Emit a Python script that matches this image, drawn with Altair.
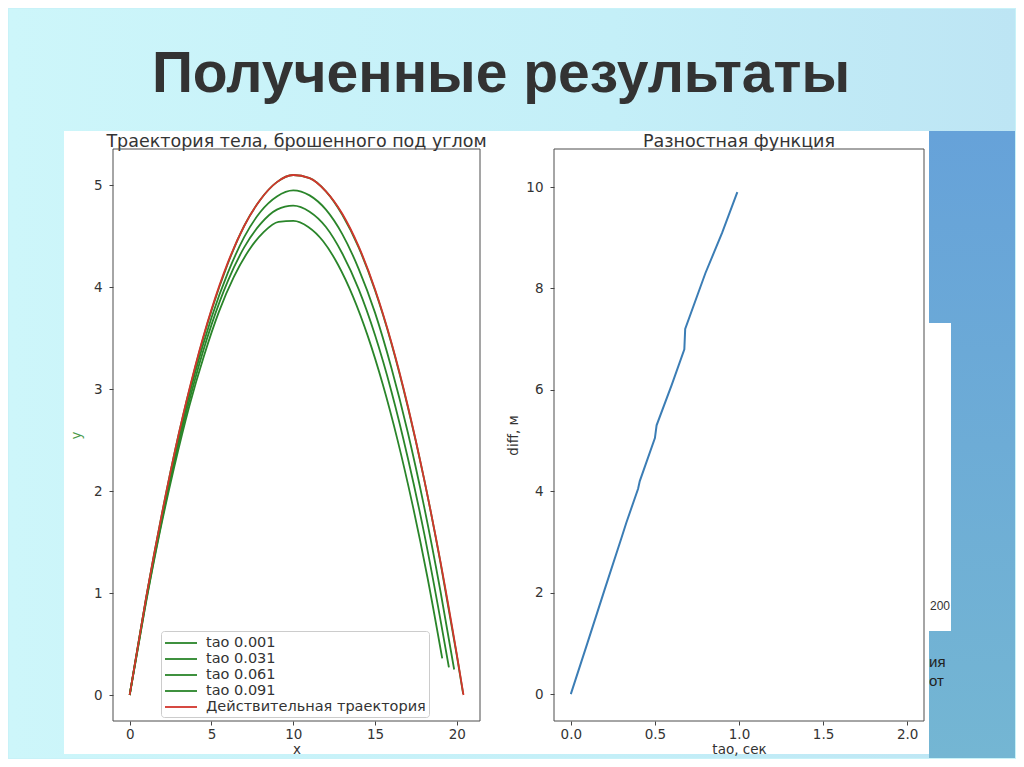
import altair as alt
import pandas as pd

# ---------------- data ----------------
SERIES_NAMES = ["tao 0.001", "tao 0.031", "tao 0.061", "tao 0.091", "Действительная траектория"]
SERIES_COLORS = ["#2a852a", "#2a852a", "#2a852a", "#2a852a", "#d2352c"]

t001_x = [0, 1, 2, 3, 4, 5, 6, 7, 8, 9, 10, 11, 12, 13, 14, 15, 16, 17, 18, 19, 20, 20.39]
t001_y = [0, 0.95, 1.80, 2.56, 3.21, 3.77, 4.23, 4.60, 4.86, 5.03, 5.10, 5.07, 4.94, 4.71, 4.39,
          3.97, 3.45, 2.83, 2.12, 1.30, 0.39, 0.01]

t031_x = [0, 1, 2, 3, 4, 5, 6, 7, 8, 9, 10, 11, 12, 13, 14, 15, 16, 17, 18, 19, 19.84]
t031_y = [0, 0.94, 1.77, 2.51, 3.16, 3.70, 4.14, 4.49, 4.74, 4.89, 4.95, 4.90, 4.76, 4.52, 4.18,
          3.75, 3.21, 2.58, 1.85, 1.02, 0.25]

t061_x = [0, 1, 2, 3, 4, 5, 6, 7, 8, 9, 10, 11, 12, 13, 14, 15, 16, 17, 18, 19, 19.52]
t061_y = [0, 0.92, 1.74, 2.47, 3.10, 3.63, 4.06, 4.39, 4.62, 4.76, 4.80, 4.74, 4.59, 4.33, 3.98,
          3.53, 2.98, 2.33, 1.59, 0.74, 0.27]

t091_x = [0, 0.91, 1.82, 2.73, 3.64, 4.55, 5.46, 6.37, 7.28, 8.19, 9.10, 10.01, 10.92, 11.83,
          12.74, 13.65, 14.56, 15.47, 16.38, 17.29, 18.20, 19.11]
t091_y = [0, 0.83, 1.58, 2.24, 2.83, 3.33, 3.76, 4.10, 4.36, 4.54, 4.64, 4.65, 4.59, 4.45,
          4.22, 3.91, 3.52, 3.05, 2.50, 1.87, 1.16, 0.36]

real_x = [0, 1, 2, 3, 4, 5, 6, 7, 8, 9, 10, 11, 12, 13, 14, 15, 16, 17, 18, 19, 20, 20.41]
real_y = [0, 0.95, 1.80, 2.56, 3.22, 3.78, 4.24, 4.60, 4.86, 5.03, 5.10, 5.07, 4.94, 4.72, 4.40,
          3.98, 3.46, 2.84, 2.12, 1.31, 0.40, 0.0]

diff_tao = [0.0, 0.10, 0.20, 0.30, 0.33, 0.40, 0.41, 0.50, 0.51, 0.60, 0.675, 0.68, 0.80, 0.90, 0.99]
diff_val = [0.0, 1.02, 2.05, 3.07, 3.38, 4.05, 4.20, 5.05, 5.30, 6.10, 6.80, 7.20, 8.30, 9.10, 9.90]

LEFT_X_TICKS = [0, 5, 10, 15, 20]
LEFT_Y_TICKS = [0, 1, 2, 3, 4, 5]
RIGHT_X_TICKS = [0.0, 0.5, 1.0, 1.5, 2.0]
RIGHT_Y_TICKS = [0, 2, 4, 6, 8, 10]

SLIDE_TITLE = "Полученные результаты"
LEFT_TITLE = "Траектория тела, брошенного под углом"
RIGHT_TITLE = "Разностная функция"

# ---------------- tables ----------------
rows = []
for name, xs, ys in zip(SERIES_NAMES, [t001_x, t031_x, t061_x, t091_x, real_x],
                        [t001_y, t031_y, t061_y, t091_y, real_y]):
    for i, (a, b) in enumerate(zip(xs, ys)):
        rows.append({"series": name, "x": a, "y": b, "i": i})
traj = pd.DataFrame(rows)
diff_df = pd.DataFrame({"tao": diff_tao, "diff": diff_val})
one = pd.DataFrame({"k": [0]})

LW, LH = 367, 572
RW, RH = 370, 572
BOTTOM = 609
FONT = "DejaVu Sans"
TXT = "#333333"


def box(x1, x2, y1, y2, **kw):
    return alt.Chart(one).mark_rect(**kw).encode(
        x=alt.value(x1), x2=alt.value(x2), y=alt.value(y1), y2=alt.value(y2))


def label(text, x, y, **kw):
    return alt.Chart(one).mark_text(text=text, **kw).encode(x=alt.value(x), y=alt.value(y))


cyan = alt.LinearGradient(gradient="linear", x1=0, y1=0, x2=1, y2=0,
                          stops=[alt.GradientStop(color="#cdf6fa", offset=0),
                                 alt.GradientStop(color="#c4eff8", offset=0.6),
                                 alt.GradientStop(color="#bde5f4", offset=1)])
blue = alt.LinearGradient(gradient="linear", x1=0, y1=0, x2=0, y2=1,
                          stops=[alt.GradientStop(color="#66a2d9", offset=0),
                                 alt.GradientStop(color="#74b6d3", offset=1)])

axis_common = dict(grid=False, domain=False, tickColor="#444444", tickSize=4,
                   labelFont=FONT, labelFontSize=13.5, labelColor=TXT,
                   titleFont=FONT, titleFontSize=13.5, titleFontWeight="normal", titleColor=TXT,
                   zindex=1)
xaxis_common = dict(axis_common, labelPadding=2, titleY=28, titleBaseline="middle")
yaxis_common = dict(axis_common, labelPadding=7, titleBaseline="middle")

panel_title = dict(font=FONT, fontSize=17.5, color=TXT, align="center", baseline="alphabetic")

# ---------------- left panel ----------------
left_bg = box(-104, 902, -140, BOTTOM, fill=cyan)
left_white = box(-49, 404, -18, BOTTOM - 4, fill="white")
main_title = label(SLIDE_TITLE, 388, -57, font="Liberation Sans, Arial, sans-serif",
                   fontWeight="bold", fontSize=57, color="#333333", align="center",
                   baseline="alphabetic")
left_title = label(LEFT_TITLE, LW / 2, -2, **panel_title)

lines = alt.Chart(traj).mark_line(strokeWidth=1.8, interpolate="monotone").encode(
    x=alt.X("x:Q", scale=alt.Scale(domain=[-1.02, 21.42], nice=False, zero=False),
            axis=alt.Axis(values=LEFT_X_TICKS, title="x", **xaxis_common)),
    y=alt.Y("y:Q", scale=alt.Scale(domain=[-0.255, 5.355], nice=False, zero=False),
            axis=alt.Axis(values=LEFT_Y_TICKS, title="y", titleX=-37,
                          **{**yaxis_common, "titleColor": "#4a9a4a"})),
    color=alt.Color("series:N", sort=SERIES_NAMES,
                    scale=alt.Scale(domain=SERIES_NAMES, range=SERIES_COLORS),
                    legend=alt.Legend(title=None, orient="none", legendX=48, legendY=482,
                                      symbolType="M-1,0L3,0", symbolStrokeWidth=1.8,
                                      symbolSize=256, labelOffset=24, labelLimit=400,
                                      labelFont=FONT, labelFontSize=14.5, labelColor=TXT,
                                      fillColor="white", strokeColor="#cccccc", padding=3,
                                      cornerRadius=3, rowPadding=0, zindex=1)),
    detail="series:N",
    order="i:Q",
)
left_frame = box(0, LW, 0, LH, fillOpacity=0, stroke="#4d4d4d", strokeWidth=1)

left = alt.layer(left_bg, left_white, main_title, left_title, lines, left_frame).properties(
    width=LW, height=LH)

# ---------------- right panel ----------------
right_white = box(-37, 375, -18, BOTTOM - 4, fill="white")
right_blue = box(375, 461, -18, BOTTOM, fill=blue)
side_box = box(375, 397, 174, 482, fill="white")
side_200 = label("200", 386, 457, font="Liberation Sans", fontSize=12, color="#333333",
                 align="center", baseline="middle")
side_ia = label("ия", 375, 513, font="Liberation Sans", fontSize=15, color="#222222",
                align="left", baseline="middle")
side_ot = label("от", 375, 532, font="Liberation Sans", fontSize=15, color="#222222",
                align="left", baseline="middle")
right_title = label(RIGHT_TITLE, RW / 2, -2, **panel_title)

diff_line = alt.Chart(diff_df).mark_line(strokeWidth=2, color="#3b7db5").encode(
    x=alt.X("tao:Q", scale=alt.Scale(domain=[-0.1, 2.1], nice=False, zero=False),
            axis=alt.Axis(values=RIGHT_X_TICKS, format=".1f", title="tao, сек", **xaxis_common)),
    y=alt.Y("diff:Q", scale=alt.Scale(domain=[-0.53, 10.75], nice=False, zero=False),
            axis=alt.Axis(values=RIGHT_Y_TICKS, title="diff, м", titleX=-41, **yaxis_common)),
)
right_frame = box(0, RW, 0, RH, fillOpacity=0, stroke="#4d4d4d", strokeWidth=1)

right = alt.layer(right_white, right_blue, side_box, side_200, side_ia, side_ot, right_title,
                  diff_line, right_frame).properties(width=RW, height=RH)

chart = alt.hconcat(left, right, spacing=74, bounds="flush").properties(
    padding=0, background="#c8f2f8"
).configure_view(stroke="transparent")

chart.save("out.html", embed_options={"renderer": "svg", "actions": False})
